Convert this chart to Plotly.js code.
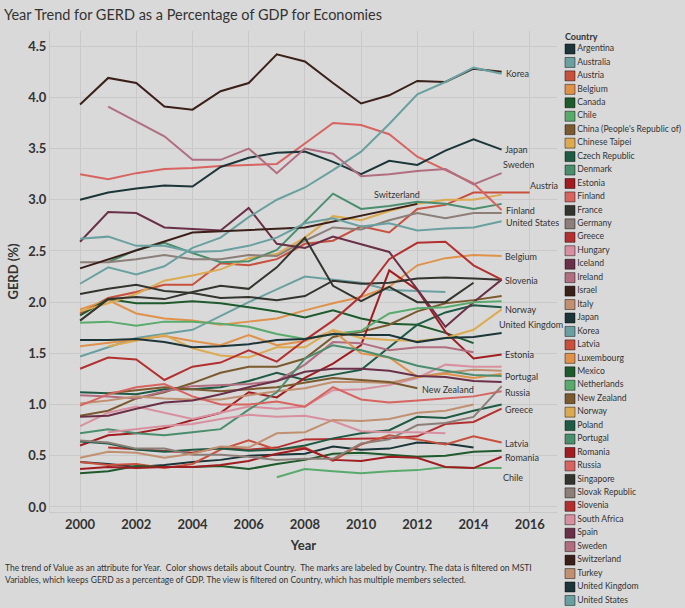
<!DOCTYPE html>
<html>
<head>
<meta charset="utf-8">
<script src="https://cdn.plot.ly/plotly-3.0.1.min.js"></script>
<style>
  html, body { margin: 0; padding: 0; background: #d9d9d9; }
  #chart { width: 685px; height: 608px; }
</style>
</head>
<body>
<div id="chart"></div>
<script>
// Años del eje X (2000 - 2016)
const years = [2000, 2001, 2002, 2003, 2004, 2005, 2006, 2007, 2008, 2009, 2010, 2011, 2012, 2013, 2014, 2015, 2016];

// GERD como % del PIB, un valor por año (null = sin dato)
const argentina = [0.44, 0.42, 0.39, 0.41, 0.44, 0.46, 0.50, 0.51, 0.52, 0.59, 0.56, 0.57, 0.63, 0.62, 0.58, null, null];
const australia = [1.47, null, 1.65, null, 1.73, null, 2.00, null, 2.25, null, 2.19, 2.12, null, 2.10, null, null, null];
const austria = [1.89, 2.04, 2.10, 2.17, 2.17, 2.38, 2.36, 2.42, 2.57, 2.60, 2.74, 2.68, 2.91, 2.95, 3.07, 3.07, 3.07];
const belgium = [1.93, 2.02, 1.89, 1.84, 1.82, 1.78, 1.81, 1.84, 1.92, 1.99, 2.05, 2.15, 2.36, 2.43, 2.46, 2.45, null];
const canada = [1.87, 2.03, 1.99, 1.99, 2.01, 1.99, 1.95, 1.91, 1.85, 1.92, 1.84, 1.79, 1.78, 1.70, 1.60, null, null];
const chile = [null, null, null, null, null, null, null, 0.29, 0.37, 0.35, 0.33, 0.35, 0.36, 0.39, 0.38, 0.38, null];
const china = [0.89, 0.94, 1.06, 1.12, 1.21, 1.31, 1.37, 1.37, 1.45, 1.66, 1.71, 1.78, 1.91, 1.99, 2.02, 2.06, null];
const chineseTaipei = [1.91, 1.99, 2.08, 2.21, 2.26, 2.32, 2.43, 2.47, 2.63, 2.84, 2.80, 2.89, 2.96, 3.00, 3.00, 3.05, null];
const czechRepublic = [1.12, 1.11, 1.10, 1.15, 1.15, 1.17, 1.23, 1.31, 1.24, 1.29, 1.34, 1.56, 1.78, 1.90, 1.97, 1.95, null];
const denmark = [null, 2.39, 2.51, 2.58, 2.48, 2.39, 2.40, 2.51, 2.78, 3.06, 2.91, 2.94, 2.98, 2.96, 2.91, 2.96, null];
const estonia = [0.60, 0.70, 0.72, 0.77, 0.85, 0.92, 1.12, 1.07, 1.26, 1.40, 1.58, 2.31, 2.12, 1.71, 1.45, 1.49, null];
const finland = [3.25, 3.20, 3.26, 3.30, 3.31, 3.33, 3.34, 3.35, 3.55, 3.75, 3.73, 3.64, 3.42, 3.29, 3.16, 2.90, null];
const france = [2.08, 2.13, 2.17, 2.11, 2.09, 2.04, 2.05, 2.02, 2.06, 2.21, 2.18, 2.19, 2.23, 2.24, 2.23, 2.22, null];
const germany = [2.39, 2.39, 2.42, 2.46, 2.42, 2.42, 2.46, 2.45, 2.60, 2.73, 2.71, 2.80, 2.87, 2.82, 2.87, 2.87, null];
const greece = [null, 0.58, null, 0.55, 0.53, 0.58, 0.56, 0.58, 0.66, null, null, 0.67, 0.69, 0.81, 0.83, 0.96, null];
const hungary = [0.79, 0.92, 0.98, 0.92, 0.86, 0.92, 0.98, 0.96, 0.98, 1.14, 1.15, 1.19, 1.26, 1.39, 1.37, 1.37, null];
const iceland = [2.59, 2.88, 2.87, 2.73, null, 2.70, 2.92, 2.57, 2.53, 2.64, null, 2.49, null, 1.76, 2.00, 2.22, null];
const ireland = [1.09, 1.08, 1.06, 1.13, 1.18, 1.19, 1.20, 1.23, 1.39, 1.61, 1.60, 1.53, 1.56, 1.56, 1.51, null, null];
const israel = [3.93, 4.19, 4.14, 3.91, 3.88, 4.06, 4.14, 4.42, 4.35, 4.14, 3.94, 4.02, 4.16, 4.15, 4.28, 4.25, null];
const italy = [1.01, 1.04, 1.08, 1.06, 1.05, 1.05, 1.09, 1.13, 1.16, 1.22, 1.22, 1.21, 1.27, 1.31, 1.34, 1.33, null];
const japan = [3.00, 3.07, 3.11, 3.14, 3.13, 3.32, 3.41, 3.46, 3.47, 3.37, 3.25, 3.38, 3.34, 3.48, 3.59, 3.49, null];
const korea = [2.18, 2.34, 2.27, 2.35, 2.53, 2.63, 2.83, 3.00, 3.12, 3.29, 3.47, 3.74, 4.03, 4.15, 4.29, 4.23, null];
const latvia = [0.44, 0.41, 0.42, 0.38, 0.42, 0.56, 0.65, 0.56, 0.58, 0.45, 0.61, 0.70, 0.66, 0.61, 0.69, 0.63, null];
const luxembourg = [1.57, null, null, 1.67, 1.62, 1.58, 1.68, 1.58, 1.62, 1.72, 1.50, 1.46, 1.27, 1.30, 1.26, 1.30, null];
const mexico = [0.33, 0.35, 0.40, 0.39, 0.39, 0.40, 0.37, 0.42, 0.46, 0.52, 0.53, 0.51, 0.49, 0.50, 0.54, 0.55, null];
const netherlands = [1.80, 1.81, 1.77, 1.81, 1.81, 1.79, 1.76, 1.69, 1.64, 1.69, 1.72, 1.89, 1.94, 1.95, 2.00, 2.01, null];
const newZealand = [null, 1.11, null, 1.17, null, 1.13, null, 1.17, null, 1.26, null, 1.22, 1.16, null, null, null, null];
const norway = [null, 1.57, null, 1.68, 1.55, 1.48, 1.46, 1.56, 1.56, 1.73, 1.65, 1.63, 1.62, 1.65, 1.73, 1.93, null];
const poland = [0.64, 0.62, 0.56, 0.54, 0.56, 0.57, 0.55, 0.56, 0.60, 0.67, 0.72, 0.75, 0.88, 0.87, 0.94, 1.00, null];
const portugal = [0.72, 0.76, 0.72, 0.70, 0.73, 0.76, 0.95, 1.12, 1.45, 1.58, 1.53, 1.46, 1.38, 1.33, 1.29, 1.28, null];
const romania = [0.37, 0.39, 0.38, 0.39, 0.39, 0.41, 0.45, 0.52, 0.57, 0.46, 0.45, 0.49, 0.48, 0.39, 0.38, 0.49, null];
const russia = [0.99, 1.10, 1.17, 1.20, 1.08, 1.00, 1.00, 1.03, 0.98, 1.17, 1.05, 1.02, 1.04, 1.06, 1.08, 1.13, null];
const singapore = [1.82, 2.03, 2.05, 2.03, 2.10, 2.16, 2.13, 2.34, 2.63, 2.16, 2.01, 2.15, 2.00, 2.00, 2.19, null, null];
const slovakRepublic = [0.65, 0.63, 0.57, 0.57, 0.51, 0.51, 0.49, 0.46, 0.47, 0.47, 0.62, 0.66, 0.80, 0.82, 0.88, 1.18, null];
const slovenia = [1.35, 1.46, 1.44, 1.24, 1.37, 1.41, 1.53, 1.42, 1.63, 1.82, 2.06, 2.42, 2.58, 2.59, 2.36, 2.22, null];
const southAfrica = [null, 0.73, null, 0.79, 0.81, 0.86, 0.90, 0.88, 0.89, 0.84, 0.74, 0.73, 0.73, 0.72, null, null, null];
const spain = [0.88, 0.89, 0.96, 1.02, 1.04, 1.10, 1.17, 1.23, 1.32, 1.35, 1.35, 1.33, 1.28, 1.27, 1.23, 1.22, null];
const sweden = [null, 3.91, null, 3.62, 3.39, 3.39, 3.50, 3.26, 3.50, 3.45, 3.23, 3.25, 3.28, 3.30, 3.15, 3.26, null];
const switzerland = [2.33, null, null, null, 2.68, null, null, null, 2.73, null, null, null, 2.96, null, null, null, null];
const turkey = [0.48, 0.54, 0.53, 0.48, 0.52, 0.59, 0.58, 0.72, 0.73, 0.85, 0.84, 0.86, 0.92, 0.94, 1.00, null, null];
const unitedKingdom = [1.63, 1.63, 1.64, 1.61, 1.56, 1.57, 1.59, 1.63, 1.64, 1.69, 1.68, 1.68, 1.61, 1.65, 1.66, 1.70, null];
const unitedStates = [2.62, 2.64, 2.55, 2.55, 2.49, 2.50, 2.55, 2.63, 2.77, 2.82, 2.74, 2.77, 2.70, 2.72, 2.73, 2.79, null];

// Nombres de países (mismo orden que la leyenda)
const countries = [
  "Argentina", "Australia", "Austria", "Belgium", "Canada", "Chile",
  "China (People's Republic of)", "Chinese Taipei", "Czech Republic", "Denmark",
  "Estonia", "Finland", "France", "Germany", "Greece", "Hungary", "Iceland",
  "Ireland", "Israel", "Italy", "Japan", "Korea", "Latvia", "Luxembourg",
  "Mexico", "Netherlands", "New Zealand", "Norway", "Poland", "Portugal",
  "Romania", "Russia", "Singapore", "Slovak Republic", "Slovenia",
  "South Africa", "Spain", "Sweden", "Switzerland", "Turkey",
  "United Kingdom", "United States",
];
const series = [
  argentina, australia, austria, belgium, canada, chile, china, chineseTaipei,
  czechRepublic, denmark, estonia, finland, france, germany, greece, hungary,
  iceland, ireland, israel, italy, japan, korea, latvia, luxembourg, mexico,
  netherlands, newZealand, norway, poland, portugal, romania, russia, singapore,
  slovakRepublic, slovenia, southAfrica, spain, sweden, switzerland, turkey,
  unitedKingdom, unitedStates,
];

// Paleta de 20 colores (se repite cada 20 países)
const palette = [
  "#1c3538", "#6aa0a0", "#c8503c", "#e0924a", "#1e5a2c",
  "#5aaa6e", "#7a5a2e", "#dcaa50", "#1e5a44", "#4a8e6e",
  "#a01c20", "#d86460", "#34342f", "#8c7e78", "#b43030",
  "#d890a0", "#6a3048", "#b06e80", "#3a2019", "#c09070",
];
const colorOf = (i) => palette[i % palette.length];

// Conversión de píxeles a coordenadas "paper" (márgenes en 0)
const W = 685, H = 608;
const px = (x) => x / W;
const py = (y) => 1 - y / H;

const FONT = "Lato, 'Noto Sans', sans-serif";
const TXT = "#333333";

// Una línea por país
const lineTraces = series.map((values, i) => ({
  type: "scatter",
  mode: "lines",
  x: years,
  y: values,
  connectgaps: true,
  name: countries[i],
  line: { color: colorOf(i), width: 2 },
  hoverinfo: "x+y+name",
  showlegend: false,
}));

// Leyenda dibujada como una traza en ejes auxiliares
const legendTrace = {
  type: "scatter",
  mode: "markers+text",
  xaxis: "x2",
  yaxis: "y2",
  x: countries.map(() => 0.08),
  y: countries.map((c, i) => i),
  text: countries,
  textposition: "middle right",
  textfont: { family: FONT, size: 8.6, color: TXT },
  marker: {
    symbol: "square",
    size: 10,
    color: countries.map((c, i) => colorOf(i)),
    line: { color: "rgba(0,0,0,0.45)", width: 1 },
  },
  cliponaxis: false,
  hoverinfo: "skip",
  showlegend: false,
};

// Etiquetas al final de las líneas
const etiquetas = [
  ["Korea", 2015.09, 4.23], ["Japan", 2015.05, 3.49], ["Sweden", 2014.98, 3.34],
  ["Austria", 2015.94, 3.14], ["Switzerland", 2010.39, 3.05], ["Finland", 2015.09, 2.90],
  ["United States", 2015.09, 2.78], ["Belgium", 2015.05, 2.45], ["Slovenia", 2015.05, 2.21],
  ["Norway", 2015.05, 1.93], ["United Kingdom", 2014.84, 1.78], ["Estonia", 2015.05, 1.49],
  ["Portugal", 2015.05, 1.27], ["New Zealand", 2012.1, 1.15], ["Russia", 2015.05, 1.12],
  ["Greece", 2015.05, 0.95], ["Latvia", 2015.05, 0.62], ["Romania", 2015.05, 0.48],
  ["Chile", 2014.98, 0.29],
];

const annotations = etiquetas.map(([t, x, y]) => ({
  text: t, x: x, y: y, xref: "x", yref: "y",
  xanchor: "left", yanchor: "middle", showarrow: false,
  font: { family: FONT, size: 9, color: TXT },
}));

annotations.push(
  {
    text: "<b>Country</b>", x: px(563), y: py(37), xref: "paper", yref: "paper",
    xanchor: "left", yanchor: "middle", showarrow: false,
    font: { family: FONT, size: 9, color: TXT },
  },
  {
    text: "The trend of Value as an attribute for Year.  Color shows details about Country.  The marks are labeled by Country. The data is filtered on MSTI",
    x: px(3), y: py(568), xref: "paper", yref: "paper",
    xanchor: "left", yanchor: "middle", showarrow: false,
    font: { family: FONT, size: 8.5, color: TXT },
  },
  {
    text: "Variables, which keeps GERD as a percentage of GDP. The view is filtered on Country, which has multiple members selected.",
    x: px(3), y: py(580), xref: "paper", yref: "paper",
    xanchor: "left", yanchor: "middle", showarrow: false,
    font: { family: FONT, size: 8.5, color: TXT },
  }
);

const layout = {
  width: W,
  height: H,
  margin: { l: 0, r: 0, t: 0, b: 0 },
  paper_bgcolor: "#d9d9d9",
  plot_bgcolor: "#d9d9d9",
  showlegend: false,
  title: {
    text: "Year Trend for GERD as a Percentage of GDP for Economies",
    x: px(4), xanchor: "left", xref: "paper",
    y: py(15), yanchor: "middle", yref: "paper",
    font: { family: FONT, size: 14.5, color: TXT },
  },
  xaxis: {
    domain: [px(50), px(557)],
    range: [1998.93, 2016.97],
    tickvals: [2000, 2002, 2004, 2006, 2008, 2010, 2012, 2014, 2016],
    ticktext: ["<b>2000</b>", "<b>2002</b>", "<b>2004</b>", "<b>2006</b>", "<b>2008</b>", "<b>2010</b>", "<b>2012</b>", "<b>2014</b>", "<b>2016</b>"],
    tickfont: { family: FONT, size: 13, color: TXT },
    showgrid: true,
    gridcolor: "#c9c9c9",
    showline: true,
    linecolor: "#c9c9c9",
    zeroline: false,
    ticks: "",
    automargin: false,
    title: { text: "<b>Year</b>", font: { family: FONT, size: 13, color: TXT }, standoff: 10 },
  },
  yaxis: {
    domain: [py(512), py(31)],
    range: [-0.049, 4.648],
    tickvals: [0, 0.5, 1, 1.5, 2, 2.5, 3, 3.5, 4, 4.5],
    ticktext: ["<b>0.0</b>", "<b>0.5</b>", "<b>1.0</b>", "<b>1.5</b>", "<b>2.0</b>", "<b>2.5</b>", "<b>3.0</b>", "<b>3.5</b>", "<b>4.0</b>", "<b>4.5</b>"],
    tickfont: { family: FONT, size: 13, color: TXT },
    showgrid: true,
    gridcolor: "#c9c9c9",
    showline: true,
    linecolor: "#c9c9c9",
    zeroline: false,
    ticks: "",
    automargin: false,
    title: { text: "<b>GERD (%)</b>", font: { family: FONT, size: 13, color: TXT }, standoff: 6 },
  },
  xaxis2: {
    domain: [px(560), px(685)],
    range: [0, 1],
    visible: false,
    fixedrange: true,
  },
  yaxis2: {
    domain: [py(49 + 13.45 * 41.5), py(49 - 13.45 * 0.5)],
    range: [countries.length - 0.5, -0.5],
    visible: false,
    fixedrange: true,
  },
  annotations: annotations,
};

const config = { displayModeBar: false, responsive: false };

Plotly.newPlot("chart", [...lineTraces, legendTrace], layout, config);
</script>
</body>
</html>
